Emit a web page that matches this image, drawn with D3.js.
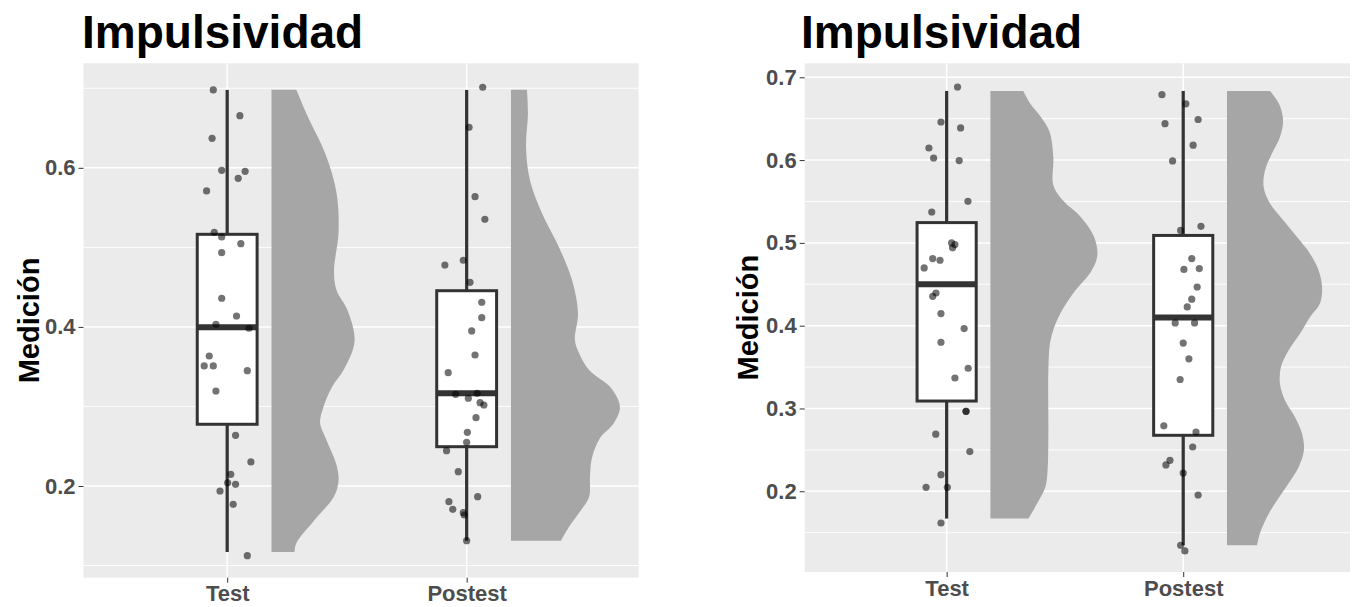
<!DOCTYPE html>
<html>
<head>
<meta charset="utf-8">
<script src="https://cdn.jsdelivr.net/npm/d3@7"></script>
<style>
  html, body { margin: 0; padding: 0; background: #fff; }
  svg { display: block; }
  text { font-family: "Liberation Sans", Arial, sans-serif; font-weight: bold; }
</style>
</head>
<body>
<svg id="chart" width="1353" height="607"></svg>
<script>
// ---------- data ----------
const categories = ["Test", "Postest"];
const titleText = "Impulsividad";
const yTitleText = "Medición";

// Left chart
const leftYTicks = [0.2, 0.4, 0.6];
const leftYMinor = [0.1, 0.3, 0.5, 0.7];
// [lower whisker, Q1, median, Q3, upper whisker]
const leftTestBox = [0.117, 0.2776, 0.3995, 0.5164, 0.6979];
const leftPostestBox = [0.1312, 0.2494, 0.3165, 0.4455, 0.6979];
const leftTestValues = [0.6979,0.6656,0.6371,0.5969,0.5956,0.5868,0.5709,0.5190,0.5130,0.5046,0.4933,0.4360,0.4137,0.4033,0.3983,0.3634,0.3509,0.3509,0.3450,0.3194,0.2637,0.2302,0.2147,0.2041,0.2021,0.1937,0.1770,0.1124];
const leftTestJitter = [-0.058,0.053,-0.063,-0.023,0.075,0.046,-0.086,-0.054,-0.023,0.057,-0.023,-0.023,0.039,-0.047,0.091,-0.075,-0.096,-0.058,0.084,-0.047,0.035,0.099,0.015,0.002,0.035,-0.030,0.025,0.084];
const leftPostestValues = [0.7013,0.6510,0.5637,0.5353,0.4838,0.4778,0.4561,0.4310,0.4116,0.3949,0.3647,0.3424,0.3153,0.3165,0.3103,0.3047,0.3018,0.2859,0.2675,0.2549,0.2444,0.2180,0.1866,0.1803,0.1707,0.1664,0.1635,0.1312];
const leftPostestJitter = [0.067,0.010,0.035,0.076,-0.014,-0.091,0.014,0.063,0.063,0.021,0.035,-0.077,-0.046,0.044,0.007,0.056,0.072,0.039,0.003,0,-0.084,-0.035,0.046,-0.074,-0.058,-0.014,-0.010,0];
const leftTestDensityAt = [0.698,0.6654,0.6166,0.5677,0.5190,0.4700,0.4457,0.4213,0.3823,0.3480,0.3236,0.2993,0.2796,0.2603,0.2259,0.2063,0.1868,0.1573,0.1283,0.117];
const leftTestDensity = [0.104,0.150,0.226,0.272,0.280,0.261,0.272,0.317,0.347,0.305,0.251,0.217,0.203,0.226,0.272,0.280,0.261,0.180,0.104,0.096];
const leftPostestDensityAt = [0.698,0.6689,0.6262,0.5847,0.5432,0.5004,0.4589,0.4174,0.3835,0.3671,0.3458,0.3231,0.2993,0.2792,0.2603,0.2352,0.2113,0.1861,0.1660,0.1484,0.1312];
const leftPostestDensity = [0.067,0.071,0.063,0.079,0.129,0.200,0.255,0.280,0.267,0.284,0.326,0.418,0.455,0.430,0.372,0.338,0.330,0.326,0.284,0.242,0.209];

// Right chart
const rightYTicks = [0.2, 0.3, 0.4, 0.5, 0.6, 0.7];
const rightYMinor = [0.15, 0.25, 0.35, 0.45, 0.55, 0.65];
const rightTestBox = [0.167, 0.309, 0.45, 0.5245, 0.6835];
const rightPostestBox = [0.1348, 0.2676, 0.4098, 0.509, 0.6835];
const rightTestValues = [0.6883,0.646,0.6388,0.6146,0.6025,0.5994,0.5502,0.5373,0.4999,0.498,0.494,0.481,0.479,0.4697,0.4395,0.4355,0.4146,0.3965,0.380,0.3486,0.3368,0.2966,0.2966,0.269,0.248,0.220,0.2048,0.2048,0.1617];
const rightTestJitter = [0.046,-0.024,0.059,-0.075,-0.055,0.053,0.090,-0.063,0.021,0.035,0.025,-0.059,-0.028,-0.095,-0.045,-0.059,-0.024,0.074,-0.024,0.091,0.035,0.082,0.082,-0.046,0.098,-0.024,-0.087,0.003,-0.024];
const rightPostestValues = [0.679,0.668,0.644,0.649,0.618,0.599,0.515,0.520,0.481,0.468,0.469,0.4467,0.432,0.4226,0.4033,0.4033,0.379,0.360,0.335,0.279,0.2716,0.2535,0.2374,0.2318,0.222,0.1955,0.1348,0.128];
const rightPostestJitter = [-0.090,0.011,-0.077,0.063,0.042,-0.045,-0.011,0.075,0.036,0.003,0.068,0.059,0.036,0.017,-0.034,0.048,0,0.024,-0.013,-0.082,0.054,0.040,-0.056,-0.073,0,0.063,-0.011,0.007];
const rightTestDensityAt = [0.6835,0.668,0.653,0.635,0.604,0.5696,0.5505,0.532,0.508,0.485,0.466,0.438,0.410,0.382,0.345,0.270,0.2217,0.205,0.186,0.167];
const rightTestDensity = [0.139,0.169,0.211,0.249,0.266,0.266,0.309,0.380,0.437,0.452,0.427,0.347,0.287,0.254,0.245,0.245,0.241,0.232,0.199,0.161];
const rightPostestDensityAt = [0.6835,0.668,0.648,0.628,0.608,0.5877,0.5675,0.5475,0.527,0.507,0.487,0.467,0.4467,0.4267,0.4105,0.3905,0.370,0.350,0.330,0.310,0.2897,0.2697,0.2495,0.2293,0.2093,0.189,0.169,0.149,0.1348];
const rightPostestDensity = [0.182,0.220,0.237,0.224,0.190,0.161,0.155,0.182,0.239,0.296,0.351,0.387,0.402,0.393,0.351,0.309,0.260,0.228,0.224,0.245,0.287,0.317,0.325,0.303,0.260,0.211,0.169,0.139,0.127];

// ---------- drawing ----------
const svg = d3.select("#chart");
const BG = "#EBEBEB", INK = "#333333", TICKTXT = "#4D4D4D", VIOLIN = "#A6A6A6";
const boxHalf = 0.125, violinNudge = 0.185;

function drawPanel(cfg) {
  const x = d3.scaleLinear().domain(cfg.xDomain).range([cfg.left, cfg.right]);
  const y = d3.scaleLinear().domain(cfg.yDomain).range([cfg.bottom, cfg.top]);
  const g = svg.append("g");

  // title
  svg.append("text").attr("x", cfg.titleX).attr("y", 48)
    .attr("font-size", 46).attr("fill", "#000").text(titleText);

  // background
  g.append("rect").attr("x", cfg.left).attr("y", cfg.top)
    .attr("width", cfg.right - cfg.left).attr("height", cfg.bottom - cfg.top).attr("fill", BG);

  // grid
  g.selectAll(".minor").data(cfg.minor).join("line")
    .attr("x1", cfg.left).attr("x2", cfg.right)
    .attr("y1", d => y(d)).attr("y2", d => y(d))
    .attr("stroke", "#fff").attr("stroke-width", 0.9);
  g.selectAll(".major").data(cfg.ticks).join("line")
    .attr("x1", cfg.left).attr("x2", cfg.right)
    .attr("y1", d => y(d)).attr("y2", d => y(d))
    .attr("stroke", "#fff").attr("stroke-width", 1.5);
  g.selectAll(".vmajor").data([1, 2]).join("line")
    .attr("x1", d => x(d)).attr("x2", d => x(d))
    .attr("y1", cfg.top).attr("y2", cfg.bottom)
    .attr("stroke", "#fff").attr("stroke-width", 1.5);

  // axes
  const yAxis = d3.axisLeft(y).tickValues(cfg.ticks).tickSize(5).tickPadding(3)
    .tickFormat(d3.format(".1f"));
  const ya = svg.append("g").attr("transform", `translate(${cfg.left},0)`).call(yAxis);
  ya.select(".domain").remove();
  ya.selectAll(".tick line").attr("stroke", INK);
  ya.selectAll(".tick text").attr("font-size", 22).attr("fill", TICKTXT)
    .attr("font-family", "'Liberation Sans', Arial, sans-serif").attr("font-weight", "bold");

  const xAxis = d3.axisBottom(x).tickValues([1, 2]).tickSize(5).tickPadding(3)
    .tickFormat(d => categories[d - 1]);
  const xa = svg.append("g").attr("transform", `translate(0,${cfg.bottom})`).call(xAxis);
  xa.select(".domain").remove();
  xa.selectAll(".tick line").attr("stroke", INK);
  xa.selectAll(".tick text").attr("font-size", 22).attr("fill", TICKTXT)
    .attr("font-family", "'Liberation Sans', Arial, sans-serif").attr("font-weight", "bold")
    .attr("dy", "0.71em");

  // y title
  svg.append("text")
    .attr("transform", `translate(${cfg.yTitleX},${(cfg.top + cfg.bottom) / 2}) rotate(-90)`)
    .attr("text-anchor", "middle").attr("font-size", 29).attr("fill", "#000")
    .text(yTitleText);

  // series
  cfg.series.forEach((s, i) => {
    const pos = i + 1;
    // half violin
    const pts = s.densityAt.map((v, k) => ({ v: v, w: s.density[k] }));
    const area = d3.area()
      .y(d => y(d.v))
      .x0(x(pos + violinNudge))
      .x1(d => x(pos + violinNudge + d.w))
      .curve(d3.curveCatmullRom.alpha(0.5));
    g.append("path").datum(pts).attr("d", area).attr("fill", VIOLIN);

    // box plot
    const [lo, q1, med, q3, hi] = s.box;
    g.append("line").attr("x1", x(pos)).attr("x2", x(pos))
      .attr("y1", y(hi)).attr("y2", y(q3)).attr("stroke", INK).attr("stroke-width", 3.2);
    g.append("line").attr("x1", x(pos)).attr("x2", x(pos))
      .attr("y1", y(q1)).attr("y2", y(lo)).attr("stroke", INK).attr("stroke-width", 3.2);
    g.append("rect").attr("x", x(pos - boxHalf)).attr("y", y(q3))
      .attr("width", x(pos + boxHalf) - x(pos - boxHalf)).attr("height", y(q1) - y(q3))
      .attr("fill", "#fff").attr("stroke", INK).attr("stroke-width", 3);
    g.append("line").attr("x1", x(pos - boxHalf)).attr("x2", x(pos + boxHalf))
      .attr("y1", y(med)).attr("y2", y(med)).attr("stroke", INK).attr("stroke-width", 6);

    // jittered points
    g.selectAll(null).data(s.values).join("circle")
      .attr("cx", (d, k) => x(pos + s.jitter[k]))
      .attr("cy", d => y(d))
      .attr("r", 3.6)
      .attr("fill", "#000").attr("fill-opacity", 0.55);
  });
}

drawPanel({
  left: 83.5, right: 638.6, top: 63.3, bottom: 577.7,
  xDomain: [0.4, 2.718], yDomain: [0.0847, 0.7314],
  ticks: leftYTicks, minor: leftYMinor,
  titleX: 82, yTitleX: 39,
  series: [
    { box: leftTestBox, values: leftTestValues, jitter: leftTestJitter, densityAt: leftTestDensityAt, density: leftTestDensity },
    { box: leftPostestBox, values: leftPostestValues, jitter: leftPostestJitter, densityAt: leftPostestDensityAt, density: leftPostestDensity }
  ]
});

drawPanel({
  left: 804.7, right: 1350, top: 63.3, bottom: 572,
  xDomain: [0.4, 2.705], yDomain: [0.1025, 0.7169],
  ticks: rightYTicks, minor: rightYMinor,
  titleX: 801, yTitleX: 758,
  series: [
    { box: rightTestBox, values: rightTestValues, jitter: rightTestJitter, densityAt: rightTestDensityAt, density: rightTestDensity },
    { box: rightPostestBox, values: rightPostestValues, jitter: rightPostestJitter, densityAt: rightPostestDensityAt, density: rightPostestDensity }
  ]
});
</script>
</body>
</html>
